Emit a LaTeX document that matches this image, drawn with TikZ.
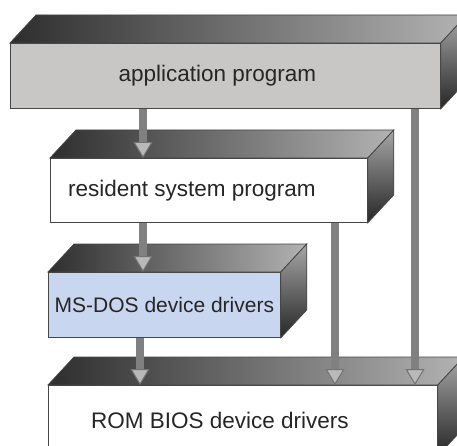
\documentclass[tikz,border=0pt]{standalone}
\usepackage{fontspec}
\setmainfont{Liberation Sans}
\usetikzlibrary{arrows.meta,positioning}

\definecolor{slabgray}{RGB}{201,198,198}
\definecolor{dosblue}{RGB}{200,214,240}
\definecolor{edgegray}{RGB}{70,70,70}
\definecolor{shaftgray}{RGB}{128,128,128}
\definecolor{tipgray}{RGB}{185,185,185}

\tikzset{
  slab/.style={draw=edgegray, line width=0.8pt, anchor=north west},
  topface/.style={draw=edgegray, line width=0.8pt, left color=black!82, right color=black!30},
  sideface/.style={draw=edgegray, line width=0.8pt, top color=black!35, bottom color=black!85},
  pipe/.style={line width=8pt, shaftgray,
    -{Triangle[width=19pt, length=16pt, line width=1pt, fill=tipgray, color=black!55]}},
}

\begin{document}
\begin{tikzpicture}[x=1pt, y=-1pt, font=\fontsize{22.5}{27}\selectfont, text=black!85]
  \useasboundingbox (0,0) rectangle (457,446);
  \clip (0,0) rectangle (457,446);

  % front faces
  \node[slab, fill=slabgray, minimum width=430pt, minimum height=65pt,
        label={[xshift=-8pt]center:application program}] (app) at (10,43) {};
  \node[slab, fill=white, minimum width=317pt, minimum height=64pt,
        label={[xshift=-17pt]center:resident system program}] (rsp) at (50,158) {};
  \node[slab, fill=dosblue, minimum width=232pt, minimum height=65pt,
        label={[font=\fontsize{21}{25}\selectfont]center:MS-DOS device drivers}] (dos) at (48,272) {};
  \node[slab, fill=white, minimum width=389pt, minimum height=70pt,
        label={[xshift=-23pt]center:ROM BIOS device drivers}] (bios) at (48,385) {};

  % top and side faces
  \foreach \b in {app,rsp,dos,bios} {
    \shadedraw[topface] (\b.north west) -- ([shift={(26,-28)}]\b.north west)
      -- ([shift={(26,-28)}]\b.north east) -- (\b.north east) -- cycle;
    \shadedraw[sideface] (\b.north east) -- ([shift={(26,-28)}]\b.north east)
      -- ([shift={(26,-28)}]\b.south east) -- (\b.south east) -- cycle;
  }

  % calls
  \coordinate (p1) at (143,0);
  \coordinate (p2) at (140,0);
  \coordinate (p3) at (335,0);
  \coordinate (p4) at (415,0);
  \draw[pipe] (app.south -| p1) -- (rsp.north -| p1);
  \draw[pipe] (rsp.south -| p1) -- (dos.north -| p1);
  \draw[pipe] (dos.south -| p2) -- (bios.north -| p2);
  \draw[pipe] (rsp.south -| p3) -- (bios.north -| p3);
  \draw[pipe] (app.south -| p4) -- (bios.north -| p4);
\end{tikzpicture}
\end{document}
